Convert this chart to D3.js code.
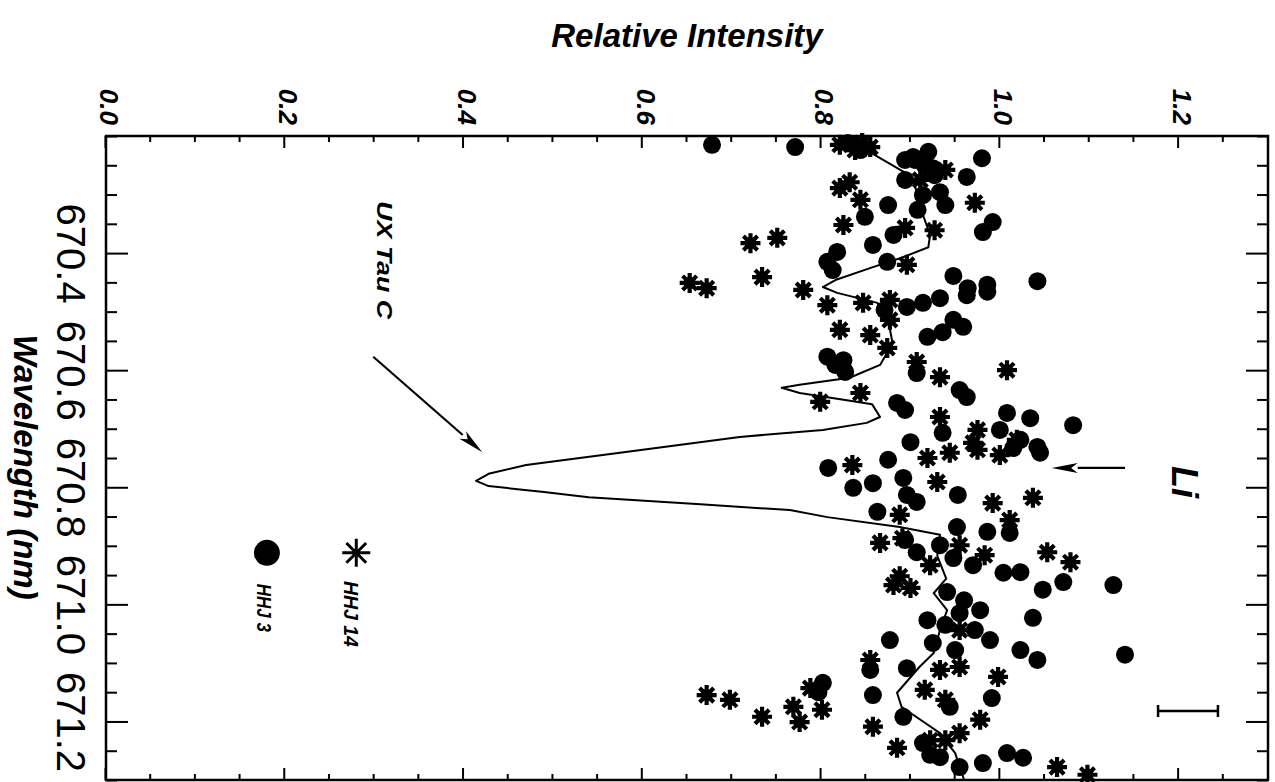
<!DOCTYPE html>
<meta charset="utf-8">
<style>
body { margin: 0; background: #fff; }
text { font-family: "Liberation Sans", Arial, sans-serif; fill: #000; }
.bi { font-weight: bold; font-style: italic; }
.frame { fill: none; stroke: #000; stroke-width: 2.5px; }
.axis path { display: none; }
.axis line { stroke: #000; stroke-width: 2px; }
.spec { fill: none; stroke: #000; stroke-width: 2px; stroke-linejoin: round; }
</style>
<svg width="1275" height="782"></svg>
<script src="https://d3js.org/d3.v7.min.js"></script>
<script>
// figure is drawn in its original orientation and then turned 90deg clockwise

var wavelengthTicks = [670.4, 670.6, 670.8, 671.0, 671.2];
var intensityTicks = [0.0, 0.2, 0.4, 0.6, 0.8, 1.0, 1.2];

// UX Tau C spectrum [wavelength nm, relative intensity]
var uxTauC = [
  [670.200, 0.830], [670.212, 0.845], [670.229, 0.856], [670.250, 0.880], [670.270, 0.902],
  [670.301, 0.908], [670.335, 0.914], [670.369, 0.922], [670.390, 0.920], [670.408, 0.890],
  [670.424, 0.858], [670.446, 0.816], [670.458, 0.802], [670.468, 0.818], [670.485, 0.863],
  [670.514, 0.875], [670.554, 0.880], [670.591, 0.866], [670.613, 0.832], [670.625, 0.776],
  [670.630, 0.756], [670.639, 0.776], [670.651, 0.827], [670.658, 0.857], [670.680, 0.866],
  [670.690, 0.851], [670.702, 0.802], [670.714, 0.709], [670.741, 0.575], [670.762, 0.470],
  [670.777, 0.428], [670.789, 0.414], [670.798, 0.428], [670.808, 0.490], [670.817, 0.540],
  [670.829, 0.665], [670.839, 0.765], [670.851, 0.807], [670.868, 0.888], [670.881, 0.933],
  [670.917, 0.930], [670.956, 0.940], [670.981, 0.926], [671.010, 0.941], [671.044, 0.933],
  [671.083, 0.926], [671.107, 0.910], [671.151, 0.885], [671.175, 0.890], [671.198, 0.912],
  [671.220, 0.933], [671.254, 0.950], [671.300, 0.960]
];

// HHJ 3 (filled circles)
var hhj3 = [
  [670.215, 0.678], [670.219, 0.771], [670.212, 0.830], [670.224, 0.844], [670.236, 0.903],
  [670.255, 0.925], [670.238, 0.980], [670.270, 0.963], [670.318, 0.875], [670.301, 0.914],
  [670.296, 0.933], [670.275, 0.894], [670.338, 0.849], [670.369, 0.881], [670.386, 0.858],
  [670.364, 0.981], [670.347, 0.992], [670.398, 0.818], [670.415, 0.807], [670.429, 0.813],
  [670.415, 0.874], [670.439, 0.948], [670.460, 0.964], [670.454, 0.986], [670.448, 1.042],
  [670.241, 0.905], [670.267, 0.927], [670.326, 0.908], [670.227, 0.920], [670.250, 0.916],
  [670.318, 0.939], [670.241, 0.894],
  [670.492, 0.896], [670.485, 0.914], [670.477, 0.933], [670.472, 0.963], [670.466, 0.986],
  [670.514, 0.948], [670.526, 0.959], [670.535, 0.936], [670.543, 0.919], [670.577, 0.807],
  [670.591, 0.816], [670.603, 0.827], [670.605, 0.907], [670.634, 0.955], [670.646, 0.963],
  [670.656, 0.885], [670.668, 0.894], [670.673, 1.008], [670.682, 1.034], [670.694, 1.082],
  [670.707, 0.936], [670.731, 1.042], [670.723, 0.900], [670.583, 0.825], [670.497, 0.871],
  [670.702, 1.000], [670.719, 1.023],
  [670.767, 0.808], [670.801, 0.836], [670.793, 0.858], [670.753, 0.875], [670.784, 0.892],
  [670.813, 0.896], [670.825, 0.907], [670.842, 0.863], [670.911, 0.907], [670.868, 0.952],
  [670.876, 0.986], [670.878, 1.011], [670.921, 0.948], [670.933, 0.970], [670.946, 1.004],
  [670.945, 1.023], [670.962, 1.071], [670.975, 1.048], [670.967, 1.127], [670.733, 1.015],
  [670.741, 1.045], [670.979, 0.941], [670.899, 0.933], [670.890, 0.894], [670.813, 0.953],
  [670.993, 0.960],
  [671.061, 0.877], [671.112, 0.855], [671.155, 0.858], [671.109, 0.896], [671.192, 0.892],
  [671.237, 0.914], [671.261, 0.933], [671.175, 0.944], [671.027, 0.919], [671.066, 0.925],
  [671.015, 0.955], [671.010, 0.978], [671.061, 0.989], [671.023, 1.037], [671.078, 1.023],
  [671.095, 1.042], [671.160, 0.991], [671.086, 1.140], [671.134, 0.802], [671.150, 0.797],
  [671.278, 0.955], [671.271, 0.981], [671.254, 1.008], [671.262, 1.026], [671.035, 0.939],
  [671.078, 0.950], [671.044, 0.972], [671.257, 0.922]
];

// HHJ 14 (asterisks)
var hhj14 = [
  [670.215, 0.821], [670.224, 0.838], [670.219, 0.855], [670.279, 0.832], [670.289, 0.821],
  [670.352, 0.825], [670.383, 0.721], [670.374, 0.751], [670.441, 0.734], [670.451, 0.653],
  [670.460, 0.672], [670.463, 0.780], [670.314, 0.972], [670.420, 0.896], [670.275, 0.911],
  [670.361, 0.927], [670.357, 0.894], [670.309, 0.844], [670.258, 0.939], [670.212, 0.846],
  [670.489, 0.807], [670.485, 0.847], [670.480, 0.877], [670.531, 0.821], [670.540, 0.855],
  [670.562, 0.874], [670.586, 0.907], [670.612, 0.933], [670.600, 1.008], [670.654, 0.799],
  [670.639, 0.844], [670.680, 0.933], [670.702, 0.975], [670.724, 0.970], [670.719, 1.019],
  [670.514, 0.877], [670.745, 1.000],
  [670.762, 0.835], [670.750, 0.919], [670.791, 0.930], [670.741, 0.944], [670.736, 0.975],
  [670.818, 1.037], [670.847, 0.888], [670.895, 0.866], [670.887, 0.891], [670.827, 0.992],
  [670.856, 1.011], [670.911, 1.053], [670.928, 1.079], [670.967, 0.881], [670.972, 0.900],
  [670.899, 0.955], [670.933, 0.922], [670.916, 0.983], [670.952, 0.888],
  [671.095, 0.855], [671.209, 0.858], [671.245, 0.885], [671.232, 0.922], [671.220, 0.955],
  [671.112, 0.933], [671.107, 0.955], [671.044, 0.955], [671.124, 0.998], [671.155, 0.672],
  [671.163, 0.698], [671.192, 0.734], [671.175, 0.769], [671.201, 0.776], [671.180, 0.801],
  [671.143, 0.788], [671.278, 1.064], [671.291, 1.098], [671.163, 0.939], [671.146, 0.916],
  [671.197, 0.978], [671.232, 0.939]
];

// typical error bar
var errWavelength = 671.182;
var errRange = [1.177, 1.244];

var svg = d3.select("svg"),
    box = {left: 106, right: 1268, top: 136, bottom: 780},
    W = box.bottom - box.top,   // wavelength extent (turned to vertical)
    H = box.right - box.left;   // intensity extent (turned to horizontal)

var x = d3.scaleLinear().domain([670.2, 671.3]).range([0, W]),
    y = d3.scaleLinear().domain([0, 1.3]).range([H, 0]);

var g = svg.append("g")
    .attr("transform", "translate(" + box.right + "," + box.top + ") rotate(90)");

var wlMinor = d3.range(0, 23).map(function(i) { return +(670.2 + i * 0.05).toFixed(2); })
      .filter(function(d) { return wavelengthTicks.indexOf(d) < 0; }),
    inMinor = d3.range(1, 26).map(function(i) { return +(i * 0.05).toFixed(2); })
      .filter(function(d) { return intensityTicks.indexOf(d) < 0; });

// wavelength axis (left side of the picture)
var xAxis = g.append("g")
    .attr("class", "axis")
    .attr("transform", "translate(0," + H + ")")
    .call(d3.axisBottom(x).tickValues(wavelengthTicks).tickSizeInner(-22).tickSizeOuter(0)
      .tickPadding(21).tickFormat(d3.format(".1f")));
xAxis.selectAll("text").style("font-size", "40px");
g.append("g").attr("class", "axis").attr("transform", "translate(0," + H + ")")
    .call(d3.axisBottom(x).tickValues(wlMinor).tickSize(-11).tickFormat(""));
g.append("g").attr("class", "axis")
    .call(d3.axisTop(x).tickValues(wavelengthTicks).tickSize(-22).tickFormat(""));
g.append("g").attr("class", "axis")
    .call(d3.axisTop(x).tickValues(wlMinor).tickSize(-11).tickFormat(""));

// intensity axis (top of the picture)
var yAxis = g.append("g")
    .attr("class", "axis")
    .call(d3.axisLeft(y).tickValues(intensityTicks).tickSizeInner(-12).tickSizeOuter(0)
      .tickPadding(11).tickFormat(d3.format(".1f")));
yAxis.selectAll("text").attr("class", "bi").style("font-size", "26px").attr("dy", "0.2em");
g.append("g").attr("class", "axis")
    .call(d3.axisLeft(y).tickValues(inMinor).tickSize(-6).tickFormat(""));
g.append("g").attr("class", "axis").attr("transform", "translate(" + W + ",0)")
    .call(d3.axisRight(y).tickValues(intensityTicks).tickSize(-12).tickFormat(""));
g.append("g").attr("class", "axis").attr("transform", "translate(" + W + ",0)")
    .call(d3.axisRight(y).tickValues(inMinor).tickSize(-6).tickFormat(""));

g.append("rect").attr("class", "frame").attr("width", W).attr("height", H);

g.append("text")
    .attr("class", "bi")
    .attr("x", W / 2 + 9)
    .attr("y", H + 92)
    .attr("text-anchor", "middle")
    .style("font-size", "33px")
    .text("Wavelength (nm)");

svg.append("text")
    .attr("class", "bi")
    .attr("x", (box.left + box.right) / 2)
    .attr("y", 47)
    .attr("text-anchor", "middle")
    .style("font-size", "33px")
    .text("Relative Intensity");

// spectrum
var line = d3.line()
    .x(function(d) { return x(d[0]); })
    .y(function(d) { return y(d[1]); });

g.append("path").datum(uxTauC).attr("class", "spec").attr("d", line);

function asterisk(r) {
  var d = r * 0.7071;
  return "M" + (-r) + ",0L" + r + ",0M0," + (-r) + "L0," + r +
    "M" + (-d) + "," + (-d) + "L" + d + "," + d + "M" + (-d) + "," + d + "L" + d + "," + (-d);
}

g.selectAll(".hhj3").data(hhj3).enter().append("circle")
    .attr("class", "hhj3")
    .attr("cx", function(d) { return x(d[0]); })
    .attr("cy", function(d) { return y(d[1]); })
    .attr("r", 9)
    .attr("fill", "#000");

var stars = g.selectAll(".hhj14").data(hhj14).enter().append("g")
    .attr("class", "hhj14")
    .attr("transform", function(d) { return "translate(" + x(d[0]) + "," + y(d[1]) + ")"; });
stars.append("path").attr("d", asterisk(10)).attr("stroke", "#000").attr("stroke-width", 4.2);
stars.append("rect").attr("x", -5.5).attr("y", -5.5).attr("width", 11).attr("height", 11)
    .attr("fill", "#000");

// error bar
var ex = x(errWavelength);
g.append("path")
    .attr("d", "M" + ex + "," + y(errRange[0]) + "V" + y(errRange[1]) +
      "M" + (ex - 6) + "," + y(errRange[0]) + "H" + (ex + 6) +
      "M" + (ex - 6) + "," + y(errRange[1]) + "H" + (ex + 6))
    .attr("stroke", "#000").attr("stroke-width", 2.5).attr("fill", "none");

// annotations
function arrow(from, to, head) {
  var x1 = x(from[0]), y1 = y(from[1]), x2 = x(to[0]), y2 = y(to[1]);
  var a = Math.atan2(y2 - y1, x2 - x1);
  var bx = x2 - head * Math.cos(a), by = y2 - head * Math.sin(a);
  var px = Math.sin(a) * 5, py = -Math.cos(a) * 5;
  g.append("line").attr("x1", x1).attr("y1", y1).attr("x2", bx).attr("y2", by)
      .attr("stroke", "#000").attr("stroke-width", 2.2);
  g.append("path")
      .attr("d", "M" + x2 + "," + y2 + "L" + (bx + px) + "," + (by + py) +
        "L" + (bx + head * 0.25 * Math.cos(a)) + "," + (by + head * 0.25 * Math.sin(a)) +
        "L" + (bx - px) + "," + (by - py) + "Z")
      .attr("fill", "#000");
}

arrow([670.577, 0.299], [670.740, 0.421], 26);
arrow([670.767, 1.140], [670.767, 1.058], 26);

g.append("text").attr("class", "bi")
    .attr("x", x(670.412)).attr("y", y(0.312)).attr("dy", "0.35em")
    .attr("text-anchor", "middle").style("font-size", "22px")
    .attr("textLength", 118).attr("lengthAdjust", "spacingAndGlyphs")
    .text("UX Tau C");

g.append("text").attr("class", "bi")
    .attr("x", x(670.791)).attr("y", y(1.207)).attr("dy", "0.35em")
    .attr("text-anchor", "middle").style("font-size", "36px")
    .text("Li");

// legend
g.append("g")
    .attr("transform", "translate(" + x(670.912) + "," + y(0.280) + ")")
    .append("path").attr("d", asterisk(14)).attr("stroke", "#000").attr("stroke-width", 3);
g.append("circle")
    .attr("cx", x(670.912)).attr("cy", y(0.180)).attr("r", 13).attr("fill", "#000");

g.append("text").attr("class", "bi")
    .attr("x", x(670.960)).attr("y", y(0.275)).attr("dy", "0.35em")
    .style("font-size", "21px")
    .attr("textLength", 66).attr("lengthAdjust", "spacingAndGlyphs")
    .text("HHJ 14");
g.append("text").attr("class", "bi")
    .attr("x", x(670.965)).attr("y", y(0.177)).attr("dy", "0.35em")
    .style("font-size", "21px")
    .attr("textLength", 48).attr("lengthAdjust", "spacingAndGlyphs")
    .text("HHJ 3");
</script>
